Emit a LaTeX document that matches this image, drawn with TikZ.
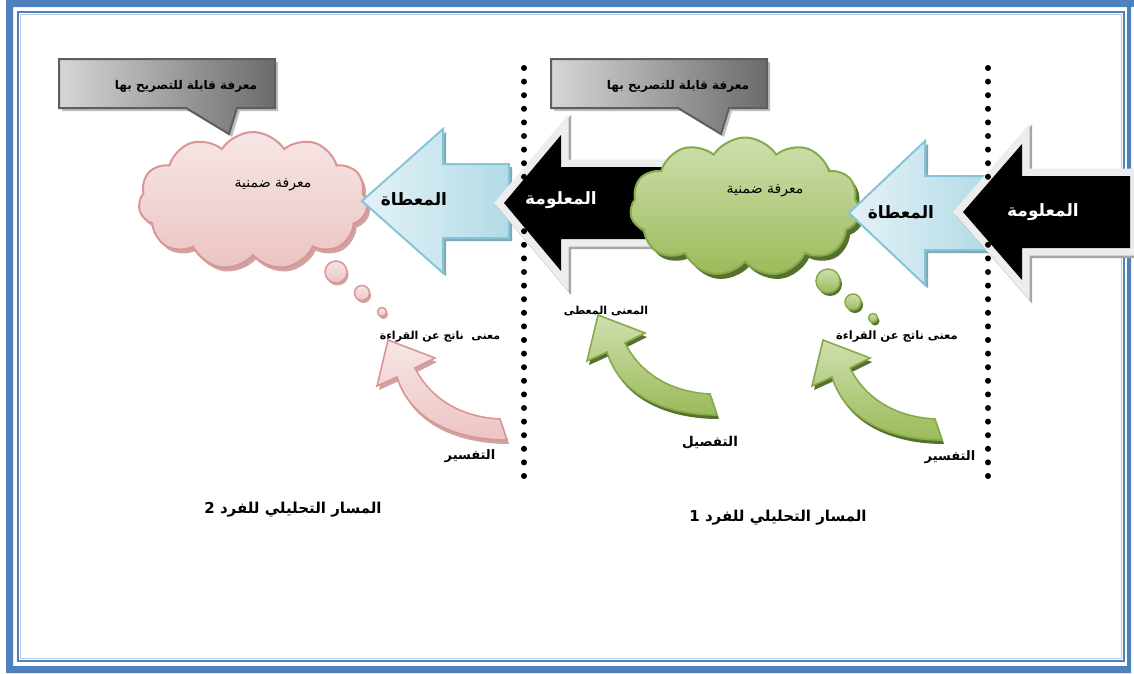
\documentclass[tikz,border=0pt]{standalone}
\usepackage{fontspec}
\usetikzlibrary{shapes.symbols,shadows}
\TeXXeTstate=1
\newfontfamily\arabicfont[Script=Arabic]{DejaVu Sans}
\newcommand\rtltext[1]{\beginR#1\endR}

\definecolor{frameblue}{HTML}{4F81BD}
\definecolor{framelight}{HTML}{B8CCE4}
\definecolor{pinktop}{HTML}{F7E6E6}
\definecolor{pinkbot}{HTML}{EBC4C3}
\definecolor{pinkline}{HTML}{D99694}
\definecolor{pinkshade}{HTML}{CFA3A2}
\definecolor{greentop}{HTML}{CFDFAE}
\definecolor{greenbot}{HTML}{9BBB59}
\definecolor{greenline}{HTML}{86AB4B}
\definecolor{greenshade}{HTML}{56702E}
\definecolor{bluetip}{HTML}{E4F2F7}
\definecolor{bluetail}{HTML}{B3DBE6}
\definecolor{blueline}{HTML}{86C5D8}
\definecolor{blueshade}{HTML}{7FA8B6}
\definecolor{calloutline}{HTML}{5E5E5E}

% curved block arrow, drawn from its tip; #1 tip, #2 face style, #3 shadow colour
\newcommand\bentarrow[3]{%
  \fill[#3, shift={#1}, xshift=2pt, yshift=-4pt]
    (112,79) -- (119,100) .. controls (67,100) and (22,80) .. (9,37)
    -- (-11,46) -- (0,0) -- (47,18) -- (27,28)
    .. controls (42,58) and (72,77) .. (112,79) -- cycle;
  \draw[#2, shift={#1}]
    (112,79) -- (119,100) .. controls (67,100) and (22,80) .. (9,37)
    -- (-11,46) -- (0,0) -- (47,18) -- (27,28)
    .. controls (42,58) and (72,77) .. (112,79) -- cycle;}

% speech box with its pointer; #1 = left x of the box
\newcommand\speechbox[1]{%
  \draw[callbox, shift={(#1,0)}]
    (0,59) -- (216,59) -- (216,108) -- (178,108) -- (170,134) -- (127,108) -- (0,108) -- cycle;}

\begin{document}
\begin{tikzpicture}[x=1pt,y=-1pt,
  txt/.style={inner sep=0pt, font=\arabicfont\fontsize{#1}{#1}\selectfont},
  btxt/.style={inner sep=0pt, font=\arabicfont\bfseries\fontsize{#1}{#1}\selectfont},
  callbox/.style={draw=calloutline, line width=2pt, line join=miter,
    left color=black!16, right color=black!58,
    preaction={fill=black!25, transform canvas={shift={(3,3)}}}},
  pinkcloud/.style={cloud, cloud puffs=11, cloud puff arc=115, aspect=1.65,
    minimum width=229pt, minimum height=138pt, inner sep=0pt,
    draw=pinkline, line width=2pt, top color=pinktop, bottom color=pinkbot,
    drop shadow={shadow xshift=3pt, shadow yshift=-4pt, fill=pinkshade, opacity=1}},
  greencloud/.style={cloud, cloud puffs=11, cloud puff arc=115, aspect=1.65,
    minimum width=230pt, minimum height=139pt, inner sep=0pt,
    draw=greenline, line width=2pt, top color=greentop, bottom color=greenbot,
    drop shadow={shadow xshift=4pt, shadow yshift=-5pt, fill=greenshade, opacity=1}},
  pinkbubble/.style={circle, inner sep=0pt, draw=pinkline, line width=1.5pt,
    top color=pinktop, bottom color=pinkbot,
    drop shadow={shadow xshift=1.5pt, shadow yshift=-2.5pt, fill=pinkshade, opacity=1}},
  greenbubble/.style={circle, inner sep=0pt, draw=greenline, line width=1.5pt,
    top color=greentop, bottom color=greenbot,
    drop shadow={shadow xshift=2pt, shadow yshift=-3pt, fill=greenshade, opacity=1}},
  bluearrow/.style={draw=blueline, line width=2pt, line join=miter,
    left color=bluetip, right color=bluetail,
    preaction={fill=blueshade, transform canvas={shift={(3,3)}}}},
  blackarrow/.style={fill=black, line join=miter,
    preaction={draw=black!35, line width=16pt, line join=miter, transform canvas={shift={(2,2)}}},
    preaction={draw=black!7, line width=15pt, line join=miter}},
  pinkbent/.style={draw=pinkline, line width=1.6pt, top color=pinktop, bottom color=pinkbot},
  greenbent/.style={draw=greenline, line width=1.6pt, top color=greentop, bottom color=greenbot},
  dotline/.style={line width=6pt, line cap=round, dash pattern=on 0pt off 13.6pt}
]
% page and frame
\fill[white] (0,0) rectangle (1134,673);
\useasboundingbox (0,0) rectangle (1134,673);
\fill[frameblue, even odd rule] (6,0) rectangle (1131,673) (13,7) rectangle (1127,666);
\fill[frameblue] (1131,0) rectangle (1134,7);
\draw[frameblue, line width=2.5pt] (18,12) rectangle (1124,661);
\draw[framelight, line width=1.5pt] (20.5,14.5) rectangle (1121.5,658.5);

% speech boxes
\speechbox{59}
\speechbox{551}

% individual 2: cloud and incoming arrows
\node[pinkcloud] (cloudL) at (253,201) {};
\draw[bluearrow] (362,201) -- (443,129) -- (443,164) -- (509,164) -- (509,238) -- (443,238) -- (443,273) -- cycle;
\path[blackarrow] (504,203) -- (561,135) -- (561,167) -- (665,167) -- (665,239) -- (561,239) -- (561,271) -- cycle;

% individual 1: cloud and incoming arrows
\node[greencloud] (cloudR) at (745,207) {};
\draw[bluearrow] (849,213) -- (925,141) -- (925,176) -- (990,176) -- (990,250) -- (925,250) -- (925,285) -- cycle;
\path[blackarrow] (963,212) -- (1022,144) -- (1022,176) -- (1130,176) -- (1130,248) -- (1022,248) -- (1022,280) -- cycle;

% thought bubbles
\node[pinkbubble, minimum size=22pt] (pb1) at (336,272) {};
\node[pinkbubble, minimum size=15pt] (pb2) at (362,293) {};
\node[pinkbubble, minimum size=9pt] (pb3) at (382,312) {};
\node[greenbubble, minimum size=24pt] (gb1) at (828,281) {};
\node[greenbubble, minimum size=16pt] (gb2) at (853,302) {};
\node[greenbubble, minimum size=9pt] (gb3) at (873,318) {};

% curved arrows
\bentarrow{(388,340)}{pinkbent}{pinkshade}
\bentarrow{(598,315)}{greenbent}{greenshade}
\bentarrow{(823,340)}{greenbent}{greenshade}

% dotted separators
\coordinate (sepLtop) at (524,68);
\coordinate (sepLbot) at (524,476);
\coordinate (sepRtop) at (988,68);
\coordinate (sepRbot) at (988,476);
\draw[dotline] (sepLtop) -- (sepLbot);
\draw[dotline] (sepRtop) -- (sepRbot);

% texts
\node[btxt=12] (callLtxt) at (186,86) {\rtltext{معرفة قابلة للتصريح بها}};
\node[btxt=12] (callRtxt) at (678,86) {\rtltext{معرفة قابلة للتصريح بها}};
\node[txt=14] (cloudLtxt) at (273,185) {\rtltext{معرفة ضمنية}};
\node[txt=14] (cloudRtxt) at (765,191) {\rtltext{معرفة ضمنية}};
\node[btxt=17] (givenL) at (414,199) {\rtltext{المعطاة}};
\node[btxt=17] (givenR) at (901,212) {\rtltext{المعطاة}};
\node[btxt=17, text=white] (infoM) at (561,200) {\rtltext{المعلومة}};
\node[btxt=17, text=white] (infoR) at (1043,212) {\rtltext{المعلومة}};
\node[btxt=11] (readL) at (440,337) {\rtltext{معنى\ \ ناتج عن القراءة}};
\node[btxt=11.5] (readR) at (897,337) {\rtltext{معنى ناتج عن القراءة}};
\begin{scope}
  \clip (540,290) rectangle (680,317);
  \node[btxt=11, anchor=base] (givenmeaning) at (606,314) {\rtltext{المعنى المعطى}};
\end{scope}
\begin{scope}
  \clip (420,440) rectangle (520,462);
  \node[btxt=13, anchor=base] (interpL) at (470,459) {\rtltext{التفسير}};
\end{scope}
\begin{scope}
  \clip (900,440) rectangle (985,463);
  \node[btxt=13, anchor=base] (interpR) at (950,460) {\rtltext{التفسير}};
\end{scope}
\node[btxt=13.5] (detail) at (710,443) {\rtltext{التفصيل}};
\node[btxt=15] (pathL) at (293,510) {\rtltext{المسار التحليلي للفرد 2}};
\node[btxt=15] (pathR) at (778,518) {\rtltext{المسار التحليلي للفرد 1}};
\end{tikzpicture}
\end{document}
